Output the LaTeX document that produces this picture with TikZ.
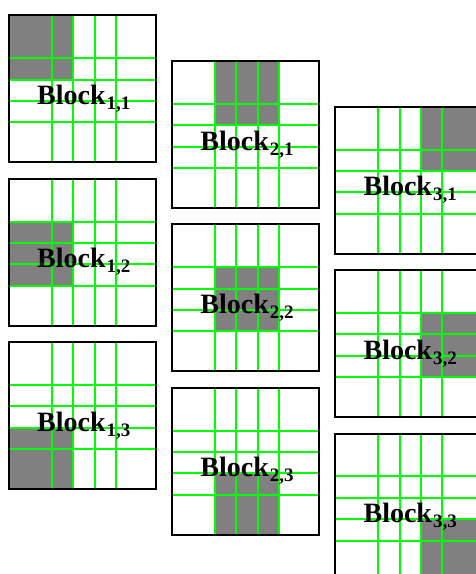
\documentclass[tikz,border=0pt]{standalone}
\usepackage{fontspec}
\setmainfont{Liberation Serif}

\begin{document}
\begin{tikzpicture}[x=1pt, y=-1pt,
    frame/.style={black, line width=2pt},
    gridline/.style={green, line width=2pt},
    shade/.style={fill=gray},
    blocklabel/.style={anchor=base west, inner sep=0pt, font=\fontsize{28}{28}\selectfont\bfseries}]
  \useasboundingbox (0,0) rectangle (476,574);
  \clip (0,0) rectangle (476,574);
  % nine blocks: column i, row j, window moves by two cells
  \foreach \i in {1,2,3} {
    \foreach \j in {1,2,3} {
      \pgfmathsetmacro{\bx}{9+163.2*(\i-1)}
      \pgfmathsetmacro{\by}{15.3+45.7*(\i-1)+163.4*(\j-1)}
      \pgfmathsetmacro{\gx}{42.8*(\i-1)}
      \pgfmathsetmacro{\gy}{42.8*(\j-1)}
      \pgfmathsetmacro{\gw}{min(64.2,147-\gx)}
      \pgfmathsetmacro{\gh}{min(64.2,147-\gy)}
      \begin{scope}[shift={(\bx,\by)}]
        \fill[shade] (\gx,\gy) rectangle ++(\gw,\gh);
        \foreach \k in {2,...,5}
          \draw[gridline] (\k*21.4,0) -- (\k*21.4,147) (0,\k*21.4) -- (147,\k*21.4);
        \draw[frame] (0,0) rectangle (147,147);
        \node[blocklabel] (blk\i\j) at (28,89) {Block\kern1pt\raisebox{-5pt}{\fontsize{19}{19}\selectfont\i,\j}};
      \end{scope}
    }
  }
\end{tikzpicture}
\end{document}
